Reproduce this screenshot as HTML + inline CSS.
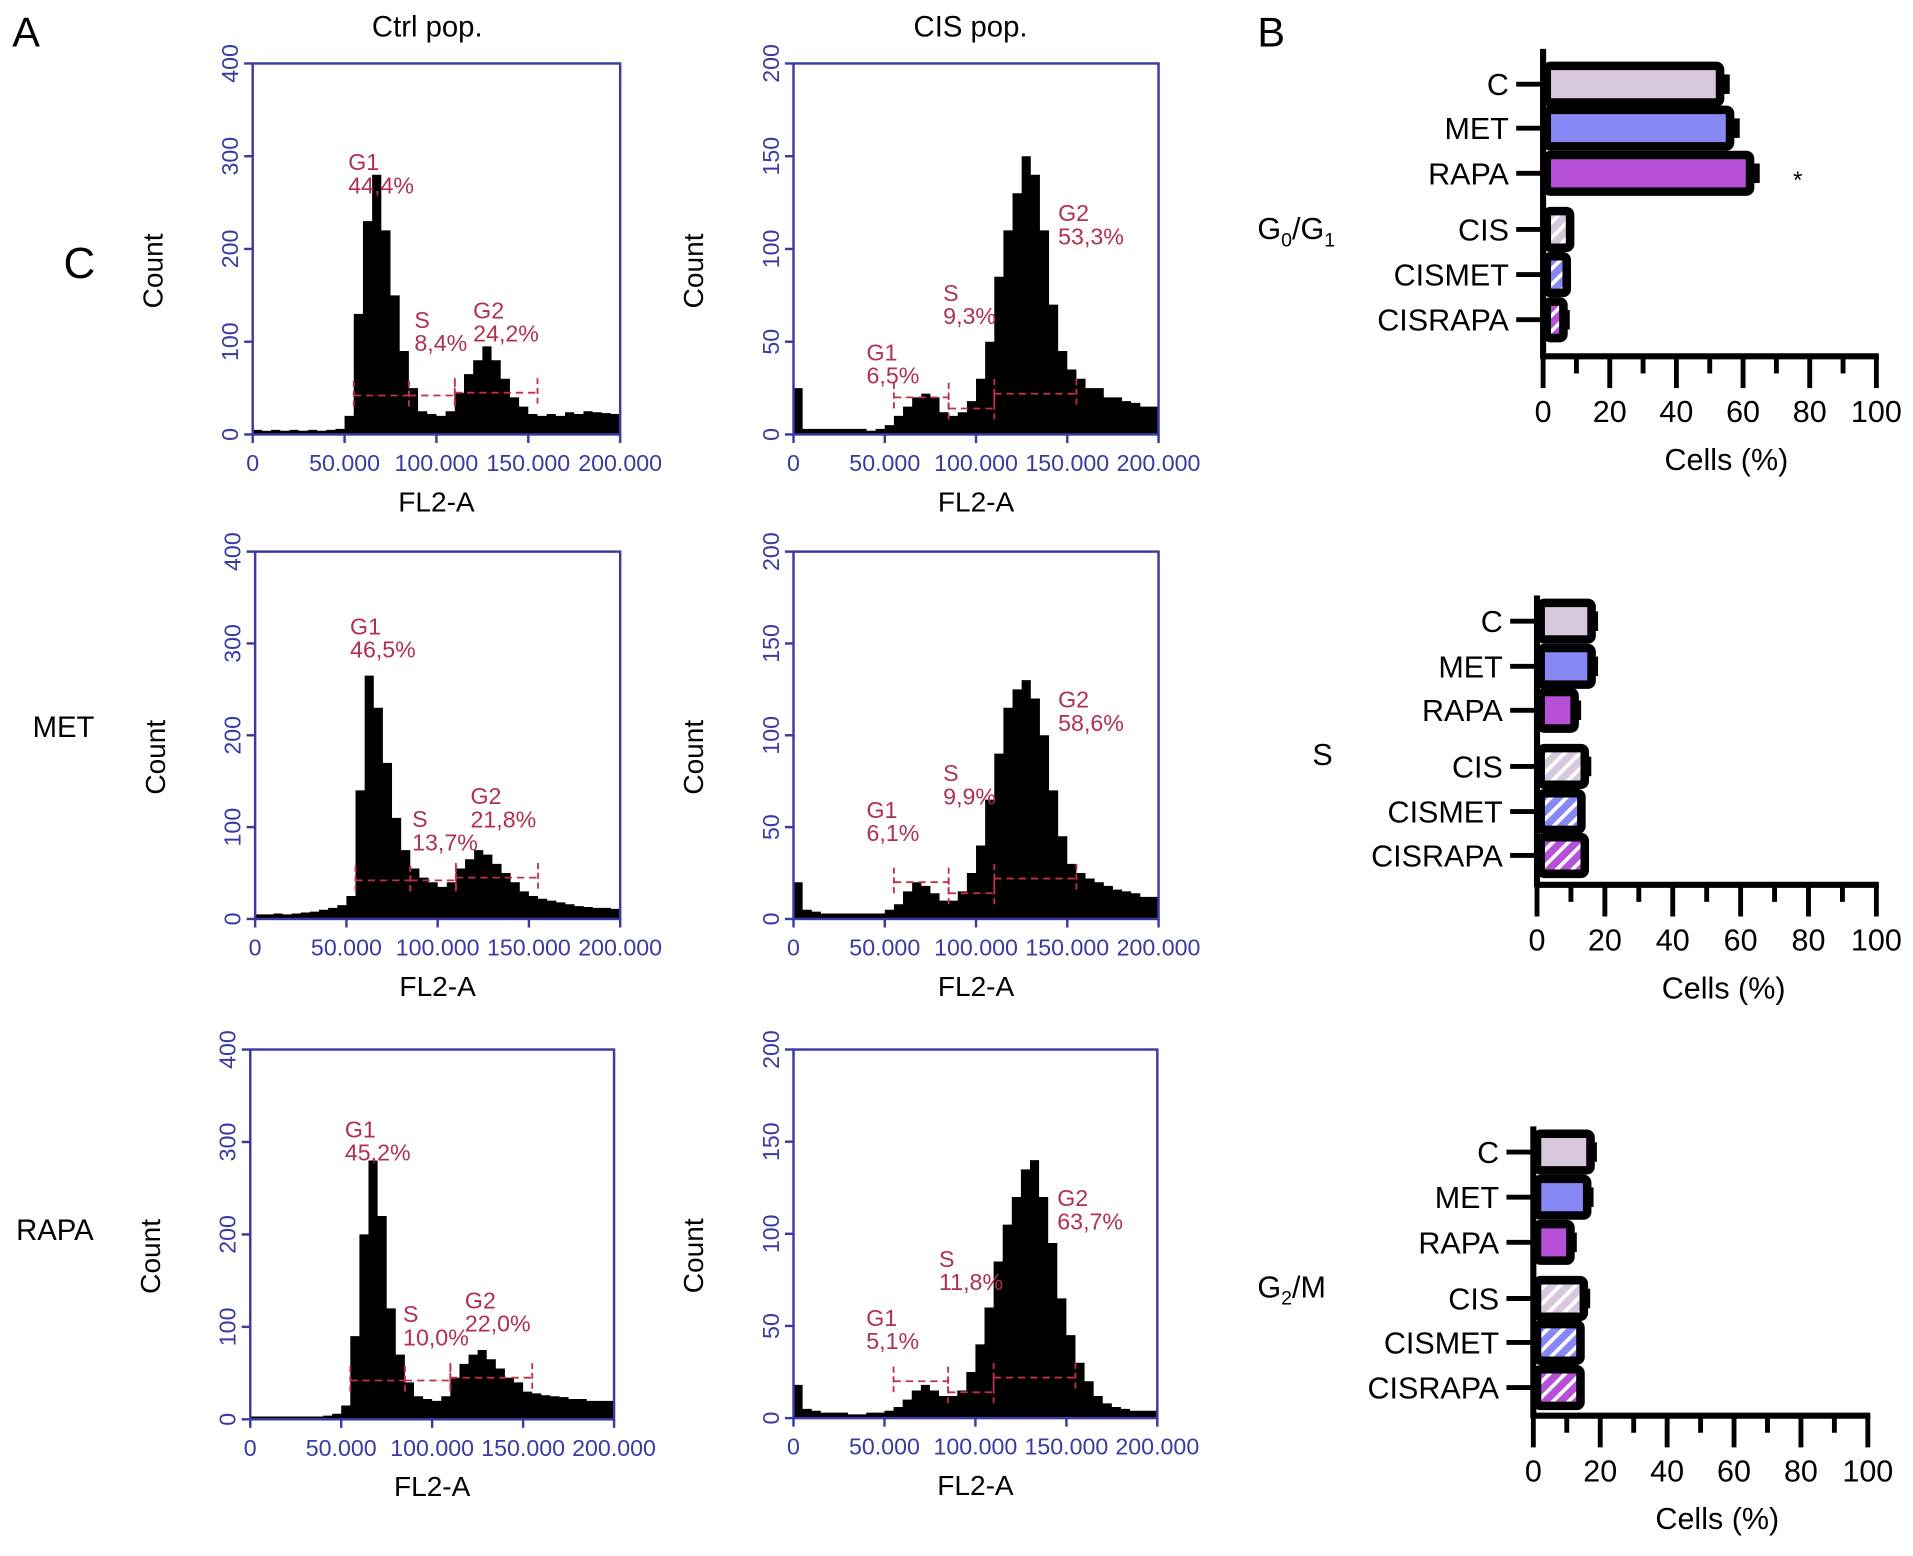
<!DOCTYPE html>
<html><head><meta charset="utf-8"><style>
html,body{margin:0;padding:0;background:#fff;}
svg{display:block;font-family:"Liberation Sans",sans-serif;}
</style></head><body>
<svg id="fig" width="1913" height="1556" viewBox="0 0 1567 1275" preserveAspectRatio="none" xmlns="http://www.w3.org/2000/svg">
<defs>
<pattern id="hC" patternUnits="userSpaceOnUse" width="9" height="9" patternTransform="rotate(45)"><rect width="9" height="9" fill="#d8c8dc"/><rect width="3" height="9" fill="#fff"/></pattern>
<pattern id="hM" patternUnits="userSpaceOnUse" width="9" height="9" patternTransform="rotate(45)"><rect width="9" height="9" fill="#8888f4"/><rect width="3" height="9" fill="#fff"/></pattern>
<pattern id="hR" patternUnits="userSpaceOnUse" width="9" height="9" patternTransform="rotate(45)"><rect width="9" height="9" fill="#b84fd8"/><rect width="3" height="9" fill="#fff"/></pattern>
</defs>
<text x="10" y="38" font-size="34">A</text>
<text x="1030" y="38" font-size="34">B</text>
<text x="350" y="30" font-size="24" text-anchor="middle">Ctrl pop.</text>
<text x="795" y="30" font-size="24" text-anchor="middle">CIS pop.</text>
<text x="65" y="228" font-size="36" text-anchor="middle">C</text>
<text x="52" y="604" font-size="24" text-anchor="middle">MET</text>
<text x="45" y="1016" font-size="24" text-anchor="middle">RAPA</text>
<g id="hists"></g>
<g id="bars"></g>
</svg>
<script>
// ---- Histogram data (counts per 5,000-unit FL2-A bin, 0..200,000) ----
const histCtrlC   = [5,4,5,4,5,4,5,4,5,6, 20,130,230,280,220,150,90,50,25,22, 20,25,45,65,80,95,80,60,40,30, 22,20,22,20,24,22,25,24,23,22];
const histCtrlMET = [5,5,6,5,6,7,8,10,12,15, 25,140,265,230,170,110,75,55,45,40, 35,40,55,65,75,70,60,50,40,30, 25,22,20,18,16,14,13,12,12,11];
const histCtrlRAPA= [3,3,3,3,3,3,3,3,4,6, 15,90,200,280,220,120,70,40,25,22, 20,25,45,60,70,75,65,55,45,40, 30,28,26,25,24,22,22,20,20,20];
const histCisC    = [25,3,3,3,3,3,3,3,2,3, 5,10,15,20,22,20,12,10,12,18, 30,50,85,110,130,150,140,110,70,45, 35,30,25,25,20,20,18,17,15,15];
const histCisMET  = [20,5,4,3,3,3,3,3,3,3, 5,8,15,20,18,14,10,10,15,25, 40,65,90,115,125,130,120,100,70,45, 30,25,22,20,18,16,15,14,12,12];
const histCisRAPA = [18,5,4,3,3,3,2,2,3,3, 4,6,10,15,18,15,12,12,15,25, 40,60,85,105,120,135,140,120,95,65, 45,30,20,12,8,6,5,4,4,4];
const xTickLabels = ["0","50.000","100.000","150.000","200.000"];
const xTickValues = [0,50000,100000,150000,200000];
const yTicksCtrl = [0,100,200,300,400];
const yTicksCis = [0,50,100,150,200];
const pctCtrlC = ["44,4%","8,4%","24,2%"];
const pctCtrlMET = ["46,5%","13,7%","21,8%"];
const pctCtrlRAPA = ["45,2%","10,0%","22,0%"];
const pctCisC = ["6,5%","9,3%","53,3%"];
const pctCisMET = ["6,1%","9,9%","58,6%"];
const pctCisRAPA = ["5,1%","11,8%","63,7%"];

// ---- Bar chart data (Cells %) ----
const groups = ["C","MET","RAPA","CIS","CISMET","CISRAPA"];
const g1Mean = [52,55,61,7,6,5];
const g1Err  = [4,4,4,2,2,3];
const sMean  = [15,15,10,13,12,13];
const sErr   = [3,3,3,3,2,2];
const g2Mean = [16,15,10,14,13,13];
const g2Err  = [3,3,3,3,2,2];
const barTicks = [0,20,40,60,80,100];

const NS="http://www.w3.org/2000/svg";
function mk(tag, attrs, parent){const e=document.createElementNS(NS,tag);for(const k in attrs)e.setAttribute(k,attrs[k]);parent.appendChild(e);return e;}

const panels=[
 {x:207,y:52,w:301,h:304,ymax:400,data:histCtrlC,ticks:yTicksCtrl,pct:pctCtrlC,name:'ctrl-c',lab:[[52000,285],[88000,115],[120000,125]],gate:[42,42,45],cis:false},
 {x:650,y:52,w:299,h:304,ymax:200,data:histCisC,ticks:yTicksCis,pct:pctCisC,name:'cis-c',lab:[[40000,40],[82000,72],[145000,115]],gate:[20,14,22],cis:true},
 {x:209,y:452,w:299,h:301,ymax:400,data:histCtrlMET,ticks:yTicksCtrl,pct:pctCtrlMET,name:'ctrl-met',lab:[[52000,310],[86000,100],[118000,125]],gate:[42,42,45],cis:false},
 {x:650,y:452,w:299,h:301,ymax:200,data:histCisMET,ticks:yTicksCis,pct:pctCisMET,name:'cis-met',lab:[[40000,55],[82000,75],[145000,115]],gate:[20,14,22],cis:true},
 {x:205,y:860,w:298,h:303,ymax:400,data:histCtrlRAPA,ticks:yTicksCtrl,pct:pctCtrlRAPA,name:'ctrl-rapa',lab:[[52000,305],[84000,105],[118000,120]],gate:[42,42,45],cis:false},
 {x:650,y:860,w:298,h:302,ymax:200,data:histCisRAPA,ticks:yTicksCis,pct:pctCisRAPA,name:'cis-rapa',lab:[[40000,50],[80000,82],[145000,115]],gate:[20,14,22],cis:true}
];
const hg=document.getElementById('hists');
panels.forEach(p=>{
  const g=mk('g',{},hg);
  
  
  const sx=v=>p.x+v/200000*p.w, sy=v=>p.y+p.h-v/p.ymax*p.h;
  let d='M'+sx(0)+','+sy(0);
  p.data.forEach((c,i)=>{d+=' L'+sx(i*5000)+','+sy(c)+' L'+sx((i+1)*5000)+','+sy(c);});
  d+=' L'+sx(200000)+','+sy(0)+'Z';
  const path=mk('path',{d:d,fill:'#000'},g);
  
  
  const box=mk('rect',{x:p.x,y:p.y,width:p.w,height:p.h,fill:'none',stroke:'#3a3aa0','stroke-width':2},g);
  
  
  xTickValues.forEach((v,i)=>{
    mk('line',{x1:sx(v),x2:sx(v),y1:p.y+p.h,y2:p.y+p.h+7,stroke:'#3a3aa0','stroke-width':2},g);
    const t=mk('text',{x:sx(v),y:p.y+p.h+30,'font-size':19,fill:'#3a3aa0','text-anchor':'middle'},g);
    t.textContent=xTickLabels[i];
    
    
  });
  p.ticks.forEach(v=>{
    mk('line',{x1:p.x-7,x2:p.x,y1:sy(v),y2:sy(v),stroke:'#3a3aa0','stroke-width':2},g);
    const t=mk('text',{x:0,y:0,'font-size':19,fill:'#3a3aa0','text-anchor':'middle',transform:`translate(${p.x-12},${sy(v)}) rotate(-90)`},g);
    t.textContent=String(v);
    
    
  });
  const xt=mk('text',{x:p.x+p.w/2,y:p.y+p.h+63,'font-size':23,'text-anchor':'middle'},g);
  xt.textContent='FL2-A';
  
  
  const yt=mk('text',{x:0,y:0,'font-size':23,'text-anchor':'middle',transform:`translate(${p.x-74},${p.y+p.h/2+18}) rotate(-90)`},g);
  yt.textContent='Count';
  
  
  const gx=[[55000,85000],[85000,110000],[110000,155000]];
  gx.forEach((r,i)=>{
    mk('line',{x1:sx(r[0]),x2:sx(r[1]),y1:sy(p.gate[i]),y2:sy(p.gate[i]),stroke:'#c0304a','stroke-width':1.5,'stroke-dasharray':'6,4'},g);
    [r[0],r[1]].forEach(xv=>mk('line',{x1:sx(xv),x2:sx(xv),y1:sy(p.gate[i])-12,y2:sy(p.gate[i])+12,stroke:'#c0304a','stroke-width':1.5,'stroke-dasharray':'5,3'},g));
  });
  const names=['G1','S','G2'];
  p.lab.forEach((l,i)=>{
    const t1=mk('text',{x:sx(l[0]),y:sy(l[1]),'font-size':19,fill:'#b03050'},g);
    t1.textContent=names[i];
    
    
    const t2=mk('text',{x:sx(l[0]),y:sy(l[1])+19,'font-size':19,fill:'#b03050'},g);
    t2.textContent=p.pct[i];
    
    
  });
});

// ---- Bar charts ----
const fills=['#d8c8dc','#8888f4','#b84fd8','url(#hC)','url(#hM)','url(#hR)'];
const charts=[
 {x0:1264,x1:1537,ay:292,top:40,ys:[69,105,142,188,225,262],mean:g1Mean,err:g1Err,name:'g0-g1',lx:1030,ly:196,star:true},
 {x0:1259,x1:1537,ay:725,top:488,ys:[509,546,582,628,665,701],mean:sMean,err:sErr,name:'s-phase',lx:1075,ly:627},
 {x0:1256,x1:1530,ay:1160,top:923,ys:[944,981,1018,1064,1100,1137],mean:g2Mean,err:g2Err,name:'g2-m',lx:1030,ly:1063}
];
const bg=document.getElementById('bars');
charts.forEach(c=>{
  const g=mk('g',{},bg);
  
  
  const sx=v=>c.x0+v/100*(c.x1-c.x0);
  groups.forEach((nm,i)=>{
    const y=c.ys[i];
    const eb=mk('rect',{x:sx(c.mean[i]),y:y-8,width:sx(c.mean[i]+c.err[i])-sx(c.mean[i]),height:16,fill:'#000'},g);
    
    
    const r=mk('rect',{x:sx(0)+3,y:y-15,width:sx(c.mean[i])-sx(0),height:30,fill:fills[i],stroke:'#000','stroke-width':7,rx:3},g);
    
    
    mk('line',{x1:sx(0)-22,x2:sx(0),y1:y,y2:y,stroke:'#000','stroke-width':4},g);
    const t=mk('text',{x:sx(0)-28,y:y+9,'font-size':25,'text-anchor':'end'},g);
    t.textContent=nm;
    
    
  });
  mk('line',{x1:sx(0),x2:sx(0),y1:c.top,y2:c.ay+2,stroke:'#000','stroke-width':5},g);
  mk('line',{x1:sx(0)-2,x2:sx(100)+2,y1:c.ay,y2:c.ay,stroke:'#000','stroke-width':5},g);
  for(let v=0;v<=100;v+=10){
    const major=v%20===0;
    mk('line',{x1:sx(v),x2:sx(v),y1:c.ay,y2:c.ay+(major?26:14),stroke:'#000','stroke-width':4},g);
  }
  barTicks.forEach(v=>{
    const t=mk('text',{x:sx(v),y:c.ay+54,'font-size':25,'text-anchor':'middle'},g);
    t.textContent=String(v);
    
    
  });
  const xt=mk('text',{x:sx(55),y:c.ay+93,'font-size':25,'text-anchor':'middle'},g);
  xt.textContent='Cells (%)';
  
  
  const lab=mk('text',{x:c.lx,y:c.ly,'font-size':25},g);
  
  
  if(c.name==='g0-g1'){lab.innerHTML='G<tspan font-size="16" dy="6">0</tspan><tspan dy="-6">/G</tspan><tspan font-size="16" dy="6">1</tspan>';}
  else if(c.name==='g2-m'){lab.innerHTML='G<tspan font-size="16" dy="6">2</tspan><tspan dy="-6">/M</tspan>';}
  else lab.textContent='S';
  if(c.star){
    const s=mk('text',{x:sx(75),y:c.ys[2]+12,'font-size':20},g);
    s.textContent='*';
    
    
  }
});
</script>
</body></html>
